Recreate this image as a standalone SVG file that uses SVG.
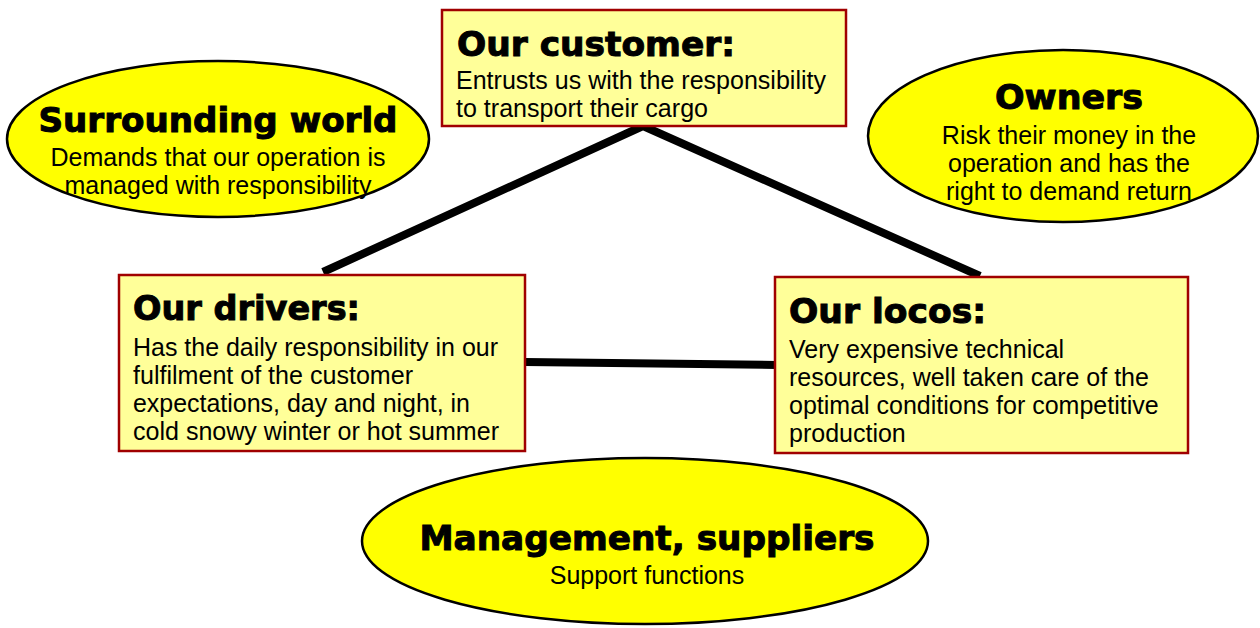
<svg xmlns="http://www.w3.org/2000/svg" width="1260" height="628" viewBox="0 0 1260 628">
<style>
.box{fill:#ffff99;stroke:#a00000;stroke-width:2.5}
.ell{fill:#ffff00;stroke:#000;stroke-width:2.5}
.hd{font-family:"DejaVu Sans","Liberation Sans",sans-serif;font-weight:bold;font-size:34px;fill:#000;stroke:#000;stroke-width:1}
.bd{font-family:"Liberation Sans",Arial,sans-serif;font-size:25px;fill:#000}
.c{text-anchor:middle}
.con{stroke:#000;stroke-width:8;fill:none;stroke-linecap:butt}
</style>
<rect width="1260" height="628" fill="#fff"/>
<g id="connectors">
<polyline class="con" points="323,272 643,126 980,276"/>
<line class="con" x1="525" y1="362" x2="776" y2="365"/>
</g>
<g id="customer">
<rect class="box" x="442" y="10" width="404" height="116"/>
<text class="hd" x="457" y="56" textLength="278" lengthAdjust="spacingAndGlyphs">Our customer:</text>
<text class="bd" x="456" y="89" textLength="370" lengthAdjust="spacingAndGlyphs">Entrusts us with the responsibility</text>
<text class="bd" x="456" y="117" textLength="252" lengthAdjust="spacingAndGlyphs">to transport their cargo</text>
</g>
<g id="surrounding">
<ellipse class="ell" cx="218" cy="139" rx="211" ry="78"/>
<text class="hd c" x="218" y="132" textLength="359" lengthAdjust="spacingAndGlyphs">Surrounding world</text>
<text class="bd c" x="218" y="166">Demands that our operation is</text>
<text class="bd c" x="218" y="194">managed with responsibility</text>
</g>
<g id="owners">
<ellipse class="ell" cx="1063" cy="136" rx="195" ry="86"/>
<text class="hd c" x="1069" y="109" textLength="148" lengthAdjust="spacingAndGlyphs">Owners</text>
<text class="bd c" x="1069" y="144">Risk their money in the</text>
<text class="bd c" x="1069" y="172">operation and has the</text>
<text class="bd c" x="1069" y="200">right to demand return</text>
</g>
<g id="drivers">
<rect class="box" x="119" y="275" width="406" height="176"/>
<text class="hd" x="133" y="320" textLength="227" lengthAdjust="spacingAndGlyphs">Our drivers:</text>
<text class="bd" x="133" y="356" textLength="365" lengthAdjust="spacingAndGlyphs">Has the daily responsibility in our</text>
<text class="bd" x="133" y="384" textLength="280" lengthAdjust="spacingAndGlyphs">fulfilment of the customer</text>
<text class="bd" x="133" y="412" textLength="337" lengthAdjust="spacingAndGlyphs">expectations, day and night, in</text>
<text class="bd" x="133" y="440" textLength="366" lengthAdjust="spacingAndGlyphs">cold snowy winter or hot summer</text>
</g>
<g id="locos">
<rect class="box" x="775" y="277" width="413" height="176"/>
<text class="hd" x="789" y="323" textLength="197" lengthAdjust="spacingAndGlyphs">Our locos:</text>
<text class="bd" x="789" y="358">Very expensive technical</text>
<text class="bd" x="789" y="386">resources, well taken care of the</text>
<text class="bd" x="789" y="414">optimal conditions for competitive</text>
<text class="bd" x="789" y="442">production</text>
</g>
<g id="management">
<ellipse class="ell" cx="645" cy="541" rx="283" ry="83"/>
<text class="hd c" x="647" y="550" textLength="455" lengthAdjust="spacingAndGlyphs">Management, suppliers</text>
<text class="bd c" x="647" y="584">Support functions</text>
</g>
</svg>
